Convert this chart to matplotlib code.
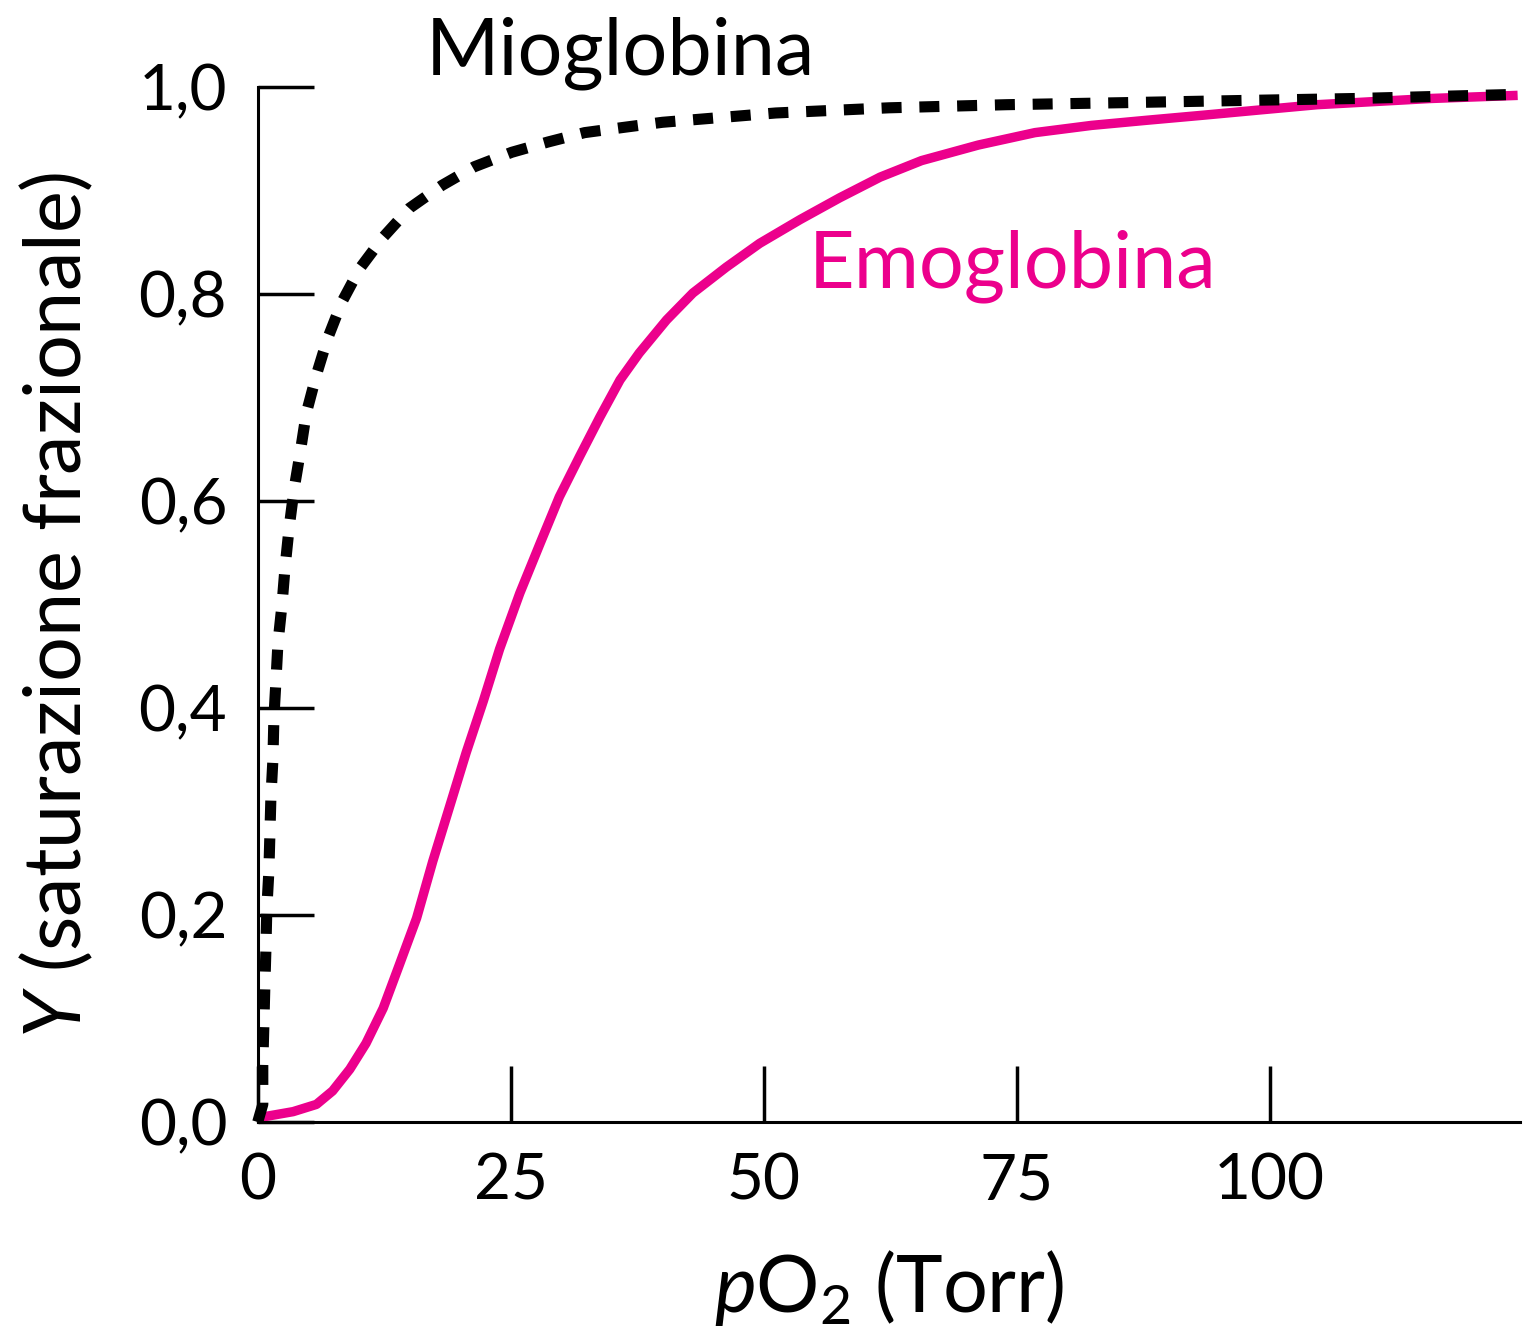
import matplotlib
matplotlib.use("Agg")
import matplotlib.pyplot as plt

# valori (pO2 in Torr, Y saturazione frazionale)
mb_po2 = [0, 0.5, 0.5, 0.6, 0.7, 0.8, 0.9, 1.1, 1.2, 1.3, 1.5, 1.6, 1.8, 2.0, 2.4,
          2.7, 3.1, 3.6, 4.2, 4.8, 5.8, 6.9, 8.3, 10.1, 12.4, 15.0, 18.2, 21.4,
          25.1, 28.7, 32.3, 36.1, 40.0, 51.2, 62.4, 74.0, 85.8, 96.9, 108.6, 124.5]
mb_y = [0.0, 0.017, 0.055, 0.091, 0.130, 0.164, 0.206, 0.242, 0.277, 0.313, 0.350,
        0.391, 0.426, 0.463, 0.500, 0.536, 0.574, 0.612, 0.647, 0.685, 0.722, 0.757,
        0.792, 0.825, 0.855, 0.883, 0.905, 0.923, 0.937, 0.947, 0.956, 0.961, 0.966,
        0.975, 0.980, 0.983, 0.985, 0.987, 0.989, 0.993]

hb_po2 = [0, 3.5, 5.8, 7.4, 9.1, 10.7, 12.4, 14.0, 15.7, 17.3, 19.0, 20.6, 22.3, 23.9,
          25.9, 27.9, 29.8, 31.8, 33.8, 35.8, 37.7, 40.4, 43.0, 46.3, 49.6, 53.6,
          57.5, 61.5, 65.6, 71.2, 76.8, 82.4, 87.9, 93.6, 99.1, 104.7, 110.3, 115.9,
          124.5]
hb_y = [0.004, 0.010, 0.017, 0.030, 0.051, 0.076, 0.110, 0.152, 0.197, 0.252, 0.306,
        0.357, 0.407, 0.457, 0.511, 0.559, 0.604, 0.643, 0.681, 0.717, 0.743, 0.775,
        0.801, 0.826, 0.849, 0.872, 0.893, 0.913, 0.929, 0.944, 0.956, 0.963, 0.968,
        0.973, 0.978, 0.983, 0.986, 0.989, 0.992]

x_ticks = [0, 25, 50, 75, 100]
y_ticks = [0.0, 0.2, 0.4, 0.6, 0.8, 1.0]
y_ticklabels = ["0,0", "0,2", "0,4", "0,6", "0,8", "1,0"]

pink = "#EC008C"

plt.rcParams["font.family"] = "Lato"
plt.rcParams["mathtext.fontset"] = "custom"
plt.rcParams["mathtext.rm"] = "Lato"
plt.rcParams["mathtext.it"] = "Lato:italic"

fig = plt.figure(figsize=(15.25, 13.4), dpi=100)
ax = fig.add_axes([0.169, 0.1627, 0.8275, 0.7723])

ax.plot(hb_po2, hb_y, color=pink, lw=6.8, solid_capstyle="butt",
        solid_joinstyle="round", clip_on=False)
ax.plot(mb_po2, mb_y, color="black", lw=8, dashes=(1.8, 1.6),
        dash_capstyle="butt", dash_joinstyle="round", clip_on=False)

ax.set_xlim(0, 124.7)
ax.set_ylim(0, 1.0)
ax.spines["top"].set_visible(False)
ax.spines["right"].set_visible(False)
ax.spines["left"].set_linewidth(2.2)
ax.spines["bottom"].set_linewidth(2.2)

ax.set_xticks(x_ticks)
ax.set_yticks(y_ticks)
ax.set_yticklabels(y_ticklabels)
ax.tick_params(direction="in", length=40, width=2.5, labelsize=46)
ax.tick_params(axis="y", pad=22)
ax.tick_params(axis="x", pad=22)

ax.set_ylabel("$Y$ (saturazione frazionale)", fontsize=57)
ax.yaxis.set_label_coords(-0.129, 0.5)
ax.set_xlabel("$p\\mathrm{O}_2$ (Torr)", fontsize=57)
ax.xaxis.set_label_coords(0.5, -0.122)

ax.text(35.8, 1.012, "Mioglobina", fontsize=57, ha="center", va="baseline")
ax.text(74.6, 0.806, "Emoglobina", fontsize=57, ha="center", va="baseline", color=pink)

fig.savefig("out.png", dpi=100)
